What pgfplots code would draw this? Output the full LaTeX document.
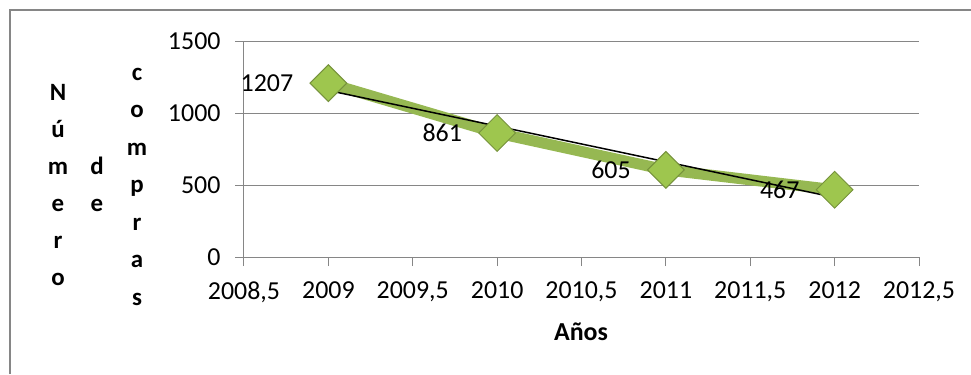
\documentclass[border=0pt]{standalone}
\usepackage{pgfplots}
\pgfplotsset{compat=1.18}
\usepackage{fontspec}
\setmainfont{Carlito}
\definecolor{gridgray}{RGB}{134,134,134}
\definecolor{lineGreen}{RGB}{150,184,82}
\definecolor{markGreen}{RGB}{158,198,78}
\definecolor{markEdge}{RGB}{118,146,60}
\begin{document}
\begin{tikzpicture}
\begin{axis}[
 at={(0,0)}, anchor=south west,
 scale only axis, width=675bp, height=216bp,
 xmin=2008.5, xmax=2012.5, ymin=0, ymax=1500,
 xtick={2008.5,2009,2009.5,2010,2010.5,2011,2011.5,2012,2012.5},
 ytick={0,500,1000,1500},
 scaled x ticks=false, scaled y ticks=false,
 axis x line*=bottom, axis y line*=left,
 axis line style={draw=gridgray, line width=1bp, -},
 ymajorgrids, grid style={draw=gridgray, line width=1bp},
 tick style={draw=gridgray, line width=1bp},
 tick align=outside, major tick length=9bp,
 /pgf/number format/use comma,
 /pgf/number format/1000 sep={},
 /pgf/number format/assume math mode=true,
 tick label style={font=\fontsize{26}{30}\selectfont, text=black},
 xticklabel style={yshift=-12bp},
 yticklabel style={xshift=-11bp},
 clip=false,
]
\addplot[lineGreen, line width=11bp, mark=square*, mark size=13bp,
  mark options={rotate=45, fill=markGreen, draw=markEdge, line width=1bp}]
  coordinates {(2009,1207) (2010,861) (2011,605) (2012,467)};
\addplot[black, line width=1.5bp, mark=none]
  coordinates {(2009,1156.4) (2012,413.6)};
\addplot[draw=none, mark=none, nodes near coords,
  every node near coord/.append style={anchor=east, xshift=-35bp, inner sep=0pt,
    font=\fontsize{26}{30}\selectfont, text=black}]
  coordinates {(2009,1207) (2010,861) (2011,605) (2012,467)};
\end{axis}
\begin{scope}[x=1bp,y=1bp]
 \draw[gridgray, line width=1.3bp] (-234,-117) -- (-234,247) -- (727,247);
 \node[anchor=base, font=\bfseries\fontsize{26}{30}\selectfont] at (337,-83) {Años};
 \foreach \ch [count=\i from 0] in {N,ú,m,e,r,o}
   \node[anchor=base, inner sep=0pt, font=\bfseries\fontsize{25}{30}\selectfont] at (-186,{157-37*\i}) {\ch};
 \foreach \ch [count=\i from 0] in {d,e}
   \node[anchor=base, inner sep=0pt, font=\bfseries\fontsize{25}{30}\selectfont] at (-147,{83-37*\i}) {\ch};
 \foreach \ch [count=\i from 0] in {c,o,m,p,r,a,s}
   \node[anchor=base, inner sep=0pt, font=\bfseries\fontsize{25}{30}\selectfont] at (-107,{177-37.5*\i}) {\ch};
 \pgfresetboundingbox
 \path[use as bounding box] (-244,-117) rectangle (727,257);
\end{scope}
\end{tikzpicture}
\end{document}
